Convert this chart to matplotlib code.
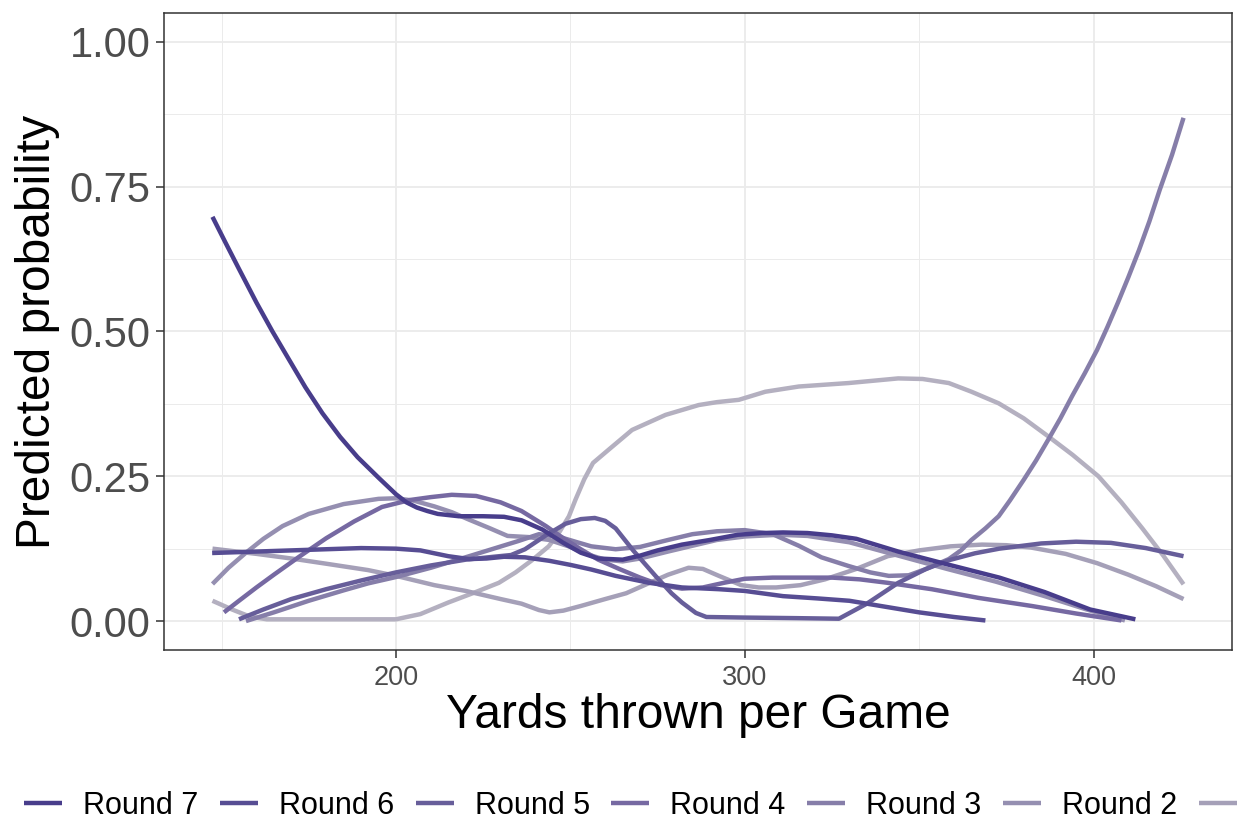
import matplotlib
matplotlib.use("Agg")
import matplotlib.pyplot as plt
from matplotlib.ticker import MultipleLocator, FormatStrFormatter

plt.rcParams['font.family'] = ['Liberation Sans', 'DejaVu Sans']

# Draft rounds, darkest first
round_labels = ["Round 7", "Round 6", "Round 5", "Round 4",
                "Round 3", "Round 2", "Round 1", "Undrafted"]
round_colors = ["#483D8B", "#574D93", "#675E9A", "#7669A2",
                "#867EA9", "#958FB1", "#A5A0B8", "#B4B0C0"]

# Predicted probability curves by yards thrown per game
yards_r7 = [147.4, 151, 155, 160, 164.6, 169, 174, 178.9, 184, 189, 195.1, 200, 203,
            206, 209, 212, 218, 225, 231, 236, 242, 248, 253, 258, 265, 270, 275,
            282, 290, 298, 305, 311, 318, 325, 332, 344, 358, 373, 386, 399, 412]
prob_r7 = [0.698, 0.655, 0.608, 0.550, 0.500, 0.455, 0.404, 0.359, 0.318, 0.283,
           0.247, 0.219, 0.205, 0.196, 0.190, 0.185, 0.181, 0.181, 0.180, 0.174,
           0.158, 0.135, 0.118, 0.108, 0.106, 0.113, 0.122, 0.132, 0.140, 0.149,
           0.152, 0.153, 0.152, 0.148, 0.142, 0.120, 0.098, 0.075, 0.050, 0.020,
           0.003]

yards_r6 = [147.3, 160, 175, 190, 200, 207, 215, 221, 226, 231, 237, 244, 250, 256,
            263, 272.6, 282, 292.6, 300, 311, 321, 330, 341, 350, 360, 369]
prob_r6 = [0.1175, 0.120, 0.123, 0.126, 0.125, 0.122, 0.112, 0.107, 0.108, 0.111,
           0.110, 0.104, 0.097, 0.089, 0.078, 0.066, 0.058, 0.055, 0.052, 0.043,
           0.039, 0.035, 0.024, 0.015, 0.007, 0.001]

yards_r5 = [155, 162, 170, 180, 190, 200, 210, 220, 228, 233, 237, 243, 248.6, 253,
            257, 260, 263, 268, 274.4, 279, 282, 286, 289, 300, 315, 327, 335, 344,
            352, 358.5, 366, 373, 385, 395, 405, 415, 425.8]
prob_r5 = [0.003, 0.020, 0.038, 0.055, 0.070, 0.084, 0.096, 0.106, 0.111, 0.114,
           0.124, 0.148, 0.168, 0.176, 0.178, 0.173, 0.160, 0.122, 0.078, 0.048,
           0.032, 0.014, 0.007, 0.006, 0.005, 0.004, 0.030, 0.066, 0.090, 0.105,
           0.117, 0.125, 0.134, 0.137, 0.135, 0.126, 0.112]

yards_r4 = [150.7, 155, 160, 165, 172, 180, 188, 196, 204, 210, 216, 223, 230, 236,
            243, 248, 253, 258, 264, 270, 276, 282, 288, 294, 300, 308, 316, 325,
            333, 341, 353.6, 367, 382.3, 395, 408]
prob_r4 = [0.015, 0.035, 0.058, 0.080, 0.110, 0.143, 0.172, 0.197, 0.209, 0.214,
           0.218, 0.216, 0.205, 0.190, 0.164, 0.143, 0.124, 0.106, 0.090, 0.075,
           0.062, 0.056, 0.058, 0.066, 0.073, 0.075, 0.075, 0.075, 0.072, 0.066,
           0.055, 0.040, 0.026, 0.013, 0.001]

yards_r3 = [157, 165, 175, 185, 192, 200, 210, 221, 228, 235, 241, 247, 252, 256,
            263, 270, 278, 285, 292, 300, 308, 315.5, 322, 329.8, 336, 341.3, 347,
            352, 358.5, 362, 365, 369, 372.8, 376, 380, 383.5, 387, 390.5, 394,
            397.5, 401, 404, 407, 410, 413, 416, 419, 422.5, 425.8]
prob_r3 = [0.000, 0.015, 0.035, 0.053, 0.065, 0.076, 0.092, 0.112, 0.125, 0.138,
           0.150, 0.145, 0.136, 0.129, 0.124, 0.128, 0.140, 0.150, 0.155, 0.157,
           0.150, 0.130, 0.110, 0.095, 0.084, 0.078, 0.079, 0.090, 0.107, 0.122,
           0.140, 0.160, 0.181, 0.208, 0.244, 0.277, 0.313, 0.350, 0.390, 0.428,
           0.468, 0.508, 0.550, 0.594, 0.640, 0.690, 0.745, 0.805, 0.869]

yards_r2 = [147.4, 152, 157, 162, 167.5, 175, 185, 195, 200, 205, 211, 216, 221, 227,
            232, 238, 244, 250, 255, 260, 265, 270, 278, 285, 292, 300, 310, 318,
            330, 344, 358, 372, 386, 398, 409]
prob_r2 = [0.064, 0.092, 0.118, 0.142, 0.164, 0.185, 0.202, 0.211, 0.212, 0.208,
           0.198, 0.188, 0.175, 0.160, 0.147, 0.145, 0.140, 0.128, 0.115, 0.106,
           0.103, 0.108, 0.120, 0.130, 0.140, 0.146, 0.149, 0.147, 0.136, 0.113,
           0.090, 0.068, 0.043, 0.020, 0.001]

yards_r1 = [147.4, 160, 170, 180, 192, 200, 211, 220, 230, 236, 241, 244, 248, 253,
            260, 266, 272, 278, 283.9, 288, 292.6, 299, 304, 309, 316, 323, 332, 341,
            350, 359, 368, 375, 382, 392, 401, 410, 418, 425.8]
prob_r1 = [0.125, 0.116, 0.108, 0.099, 0.088, 0.078, 0.062, 0.052, 0.038, 0.030,
           0.019, 0.015, 0.018, 0.026, 0.038, 0.048, 0.064, 0.080, 0.092, 0.090,
           0.078, 0.062, 0.058, 0.058, 0.062, 0.072, 0.090, 0.112, 0.122, 0.129,
           0.132, 0.131, 0.127, 0.116, 0.100, 0.080, 0.060, 0.038]

yards_ud = [147.4, 153, 158, 163, 180, 200, 207, 215, 222, 229.5, 234.3, 239, 243.8,
            247, 249.6, 251.5, 254, 256.5, 261, 267.7, 277.3, 286.8, 292, 298.3,
            305.9, 315.5, 329.8, 344, 351, 358.5, 365, 372.8, 380, 387, 394, 401.4,
            408, 414, 420, 425.8]
prob_ud = [0.035, 0.020, 0.008, 0.003, 0.003, 0.003, 0.012, 0.032, 0.048, 0.066,
           0.084, 0.105, 0.129, 0.155, 0.181, 0.210, 0.245, 0.273, 0.296, 0.330,
           0.356, 0.373, 0.378, 0.382, 0.396, 0.405, 0.411, 0.419, 0.418, 0.411,
           0.396, 0.376, 0.350, 0.319, 0.287, 0.250, 0.205, 0.160, 0.113, 0.0635]

series = [(yards_r7, prob_r7), (yards_r6, prob_r6), (yards_r5, prob_r5),
          (yards_r4, prob_r4), (yards_r3, prob_r3), (yards_r2, prob_r2),
          (yards_r1, prob_r1), (yards_ud, prob_ud)]

W, H = 1241, 827
fig = plt.figure(figsize=(W / 100, H / 100), dpi=100)
fig.patch.set_facecolor("white")
ax = fig.add_axes([164 / W, (H - 650) / H, (1232 - 164) / W, (650 - 13) / H])

handles = []
n = len(series)
for i, ((xs, ys), lab, col) in enumerate(zip(series, round_labels, round_colors)):
    ln, = ax.plot(xs, ys, color=col, lw=3.2, solid_capstyle="butt",
                  solid_joinstyle="round", label=lab, zorder=3 + (n - i))
    handles.append(ln)

ax.set_xlim(133.5, 439.7)
ax.set_ylim(-0.05, 1.05)

ax.xaxis.set_major_locator(MultipleLocator(100))
ax.xaxis.set_minor_locator(MultipleLocator(50))
ax.yaxis.set_major_locator(MultipleLocator(0.25))
ax.yaxis.set_minor_locator(MultipleLocator(0.125))
ax.yaxis.set_major_formatter(FormatStrFormatter("%.2f"))

ax.grid(which="major", color="#EBEBEB", lw=1.3, zorder=0)
ax.grid(which="minor", color="#EBEBEB", lw=0.7, zorder=0)
ax.set_axisbelow(True)

for sp in ax.spines.values():
    sp.set_color("#333333")
    sp.set_linewidth(1.1)

ax.tick_params(which="major", length=5.8, width=1.1, color="#333333")
ax.tick_params(which="minor", length=0)
ax.tick_params(axis="y", labelsize=30, labelcolor="#4D4D4D", pad=4)
ax.tick_params(axis="x", labelsize=19.5, labelcolor="#4D4D4D", pad=5)

ax.set_xlabel("Yards thrown per Game", fontsize=34.5, color="black")
ax.set_ylabel("Predicted probability", fontsize=34.5, color="black")
ax.xaxis.set_label_coords(0.5, (650 - 715) / 637)
ax.xaxis.label.set_verticalalignment("center")
ax.yaxis.set_label_coords((38 - 164) / 1068, 0.5)
ax.yaxis.label.set_verticalalignment("center")

fs = 22
em = fs * 100 / 72
fig.legend(handles, round_labels, ncol=len(round_labels), loc="center left",
           bbox_to_anchor=(24 / W, 1 - 806 / H), frameon=False, fontsize=fs,
           handlelength=38 / em, handletextpad=21 / em, columnspacing=21.6 / em,
           borderpad=0, borderaxespad=0)

fig.savefig("out.png", dpi=100)
